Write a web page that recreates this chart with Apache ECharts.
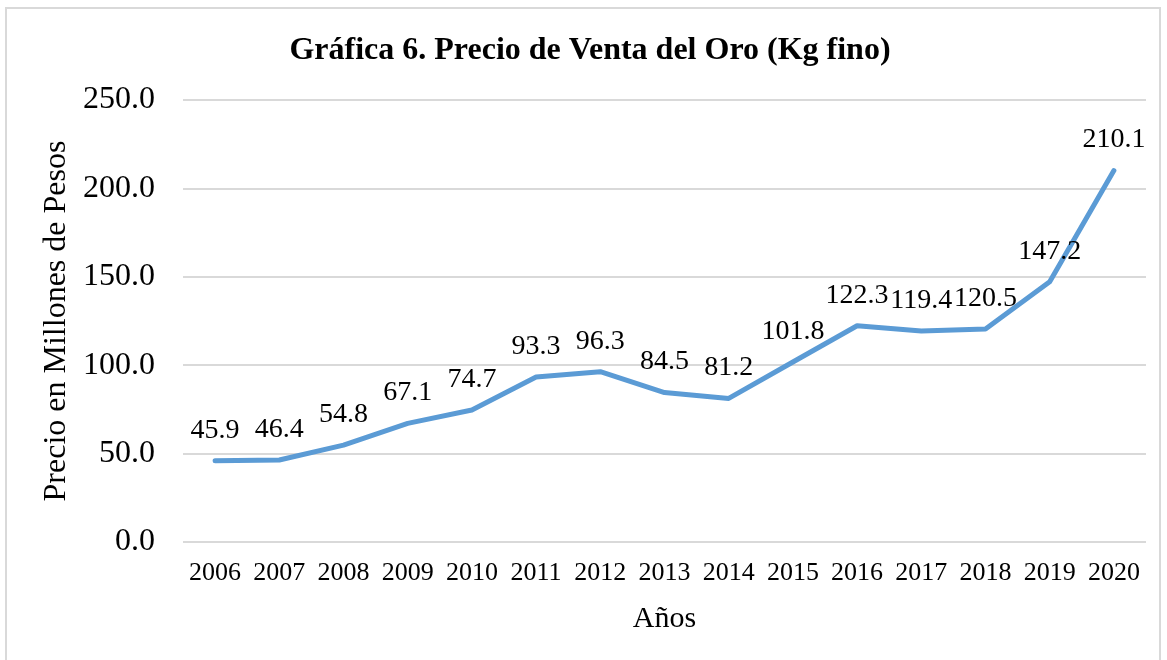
<!DOCTYPE html>
<html>
<head>
<meta charset="utf-8">
<script src="https://cdn.jsdelivr.net/npm/echarts@6/dist/echarts.min.js"></script>
<style>
  html, body { margin: 0; padding: 0; background: #fff; }
  #frame { position: absolute; left: 5px; top: 7px; width: 1156px; height: 660px; border: 2px solid #d9d9d9; box-sizing: border-box; }
  #chart { position: absolute; left: 0; top: 0; width: 1167px; height: 660px; }
</style>
</head>
<body>
<div id="frame"></div>
<div id="chart"></div>
<script>
  // años y precio (millones de pesos por kg fino)
  var years = ['2006', '2007', '2008', '2009', '2010', '2011', '2012', '2013', '2014', '2015', '2016', '2017', '2018', '2019', '2020'];
  var prices = [45.9, 46.4, 54.8, 67.1, 74.7, 93.3, 96.3, 84.5, 81.2, 101.8, 122.3, 119.4, 120.5, 147.2, 210.1];

  var serif = '"Liberation Serif", "DejaVu Serif", serif';
  var myChart = echarts.init(document.getElementById('chart'));
  myChart.setOption({
    animation: false,
    title: {
      text: 'Gráfica 6. Precio de Venta del Oro (Kg fino)',
      left: 585,
      textAlign: 'center',
      top: 30,
      textStyle: { fontFamily: serif, fontWeight: 'bold', fontSize: 32, color: '#000' }
    },
    grid: { left: 183, right: 21, top: 100, bottom: 118, containLabel: false },
    xAxis: {
      type: 'category',
      data: years,
      boundaryGap: true,
      name: 'Años',
      nameLocation: 'middle',
      nameGap: 62,
      nameTextStyle: { fontFamily: serif, fontSize: 30, color: '#000' },
      axisLine: { show: false },
      axisTick: { show: false },
      axisLabel: { fontFamily: serif, fontSize: 26, color: '#000', margin: 18, interval: 0 }
    },
    yAxis: {
      type: 'value',
      min: 0,
      max: 250,
      interval: 50,
      name: 'Precio en Millones de Pesos',
      nameLocation: 'middle',
      nameGap: 108,
      nameTextStyle: { fontFamily: serif, fontSize: 32, color: '#000' },
      axisLine: { show: false },
      axisTick: { show: false },
      axisLabel: {
        fontFamily: serif, fontSize: 32, color: '#000', margin: 28,
        formatter: function (v) { return v.toFixed(1); }
      },
      splitLine: { lineStyle: { color: '#d9d9d9', width: 2 } }
    },
    series: [{
      name: 'Precio',
      type: 'line',
      data: prices,
      symbol: 'circle',
      symbolSize: 1,
      showSymbol: true,
      itemStyle: { color: 'rgba(91,155,213,0)', borderWidth: 0 },
      lineStyle: { color: '#5b9bd5', width: 5, cap: 'round', join: 'round' },
      label: {
        show: true,
        position: 'top',
        distance: 16,
        fontFamily: serif,
        fontSize: 28,
        color: '#000',
        formatter: function (p) { return p.value.toFixed(1); }
      }
    }]
  });
</script>
</body>
</html>
